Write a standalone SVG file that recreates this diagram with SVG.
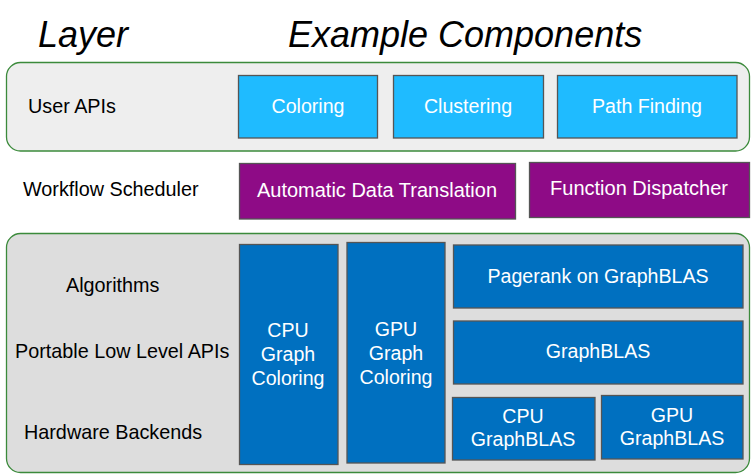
<svg xmlns="http://www.w3.org/2000/svg" width="754" height="474" viewBox="0 0 754 474">
<style>
text{font-family:"Liberation Sans",Arial,sans-serif}
.title{font-size:36px;font-style:italic;fill:#000}
.lbl{font-size:19.8px;fill:#000}
.bt{font-size:19.6px;fill:#fff;text-anchor:middle}
.panel{stroke:#3b8a3b;stroke-width:1.3}
.cyan{fill:#1fbbff;stroke:#555;stroke-width:1.3}
.purple{fill:#8e0b86;stroke:#555;stroke-width:1.3}
.blue{fill:#0070c0;stroke:#555;stroke-width:1.3}
</style>
<rect width="754" height="474" fill="#fff"/>
<g id="titles">
<text class="title" x="38" y="47">Layer</text>
<text class="title" x="288" y="47">Example Components</text>
</g>
<g id="panel-user">
<rect class="panel" x="6.5" y="62.5" width="743" height="88.5" rx="14" fill="#eeeeee"/>
<text class="lbl" x="28" y="113">User APIs</text>
</g>
<g id="panel-lower">
<rect class="panel" x="6.5" y="233.5" width="743" height="239" rx="14" fill="#dddddd"/>
<text class="lbl" x="66" y="292">Algorithms</text>
<text class="lbl" x="15" y="358">Portable Low Level APIs</text>
<text class="lbl" x="24" y="439">Hardware Backends</text>
</g>
<g id="label-workflow">
<text class="lbl" x="23" y="196">Workflow Scheduler</text>
</g>
<g id="coloring"><rect class="cyan" x="238.5" y="75.5" width="139" height="62.5"/><text class="bt" x="308" y="113">Coloring</text></g>
<g id="clustering"><rect class="cyan" x="393.5" y="75.5" width="150" height="62.5"/><text class="bt" x="468" y="113">Clustering</text></g>
<g id="pathfinding"><rect class="cyan" x="557.5" y="75.5" width="179.5" height="62.5"/><text class="bt" x="647" y="113">Path Finding</text></g>
<g id="adt"><rect class="purple" x="239.5" y="163.5" width="276" height="55.5"/><text class="bt" x="377" y="197" style="font-size:20px">Automatic Data Translation</text></g>
<g id="dispatcher"><rect class="purple" x="529.5" y="162.5" width="220" height="55"/><text class="bt" x="639" y="195" style="font-size:20px">Function Dispatcher</text></g>
<g id="cpu-coloring"><rect class="blue" x="239.5" y="244.5" width="98.5" height="220"/>
<text class="bt" x="288" y="337">CPU</text><text class="bt" x="288" y="361">Graph</text><text class="bt" x="288" y="385">Coloring</text></g>
<g id="gpu-coloring"><rect class="blue" x="347" y="242.5" width="98" height="220.5"/>
<text class="bt" x="396" y="336">GPU</text><text class="bt" x="396" y="360">Graph</text><text class="bt" x="396" y="384">Coloring</text></g>
<g id="pagerank"><rect class="blue" x="453.5" y="245" width="289.5" height="63"/><text class="bt" x="598" y="283">Pagerank on GraphBLAS</text></g>
<g id="graphblas"><rect class="blue" x="453.5" y="321" width="289.5" height="63"/><text class="bt" x="598" y="358">GraphBLAS</text></g>
<g id="cpu-graphblas"><rect class="blue" x="452.5" y="397.5" width="142.5" height="62.5"/>
<text class="bt" x="523" y="423">CPU</text><text class="bt" x="523" y="446">GraphBLAS</text></g>
<g id="gpu-graphblas"><rect class="blue" x="601.5" y="395.5" width="141.5" height="63.5"/>
<text class="bt" x="672" y="422">GPU</text><text class="bt" x="672" y="445">GraphBLAS</text></g>
<g id="connectors"></g>
</svg>
